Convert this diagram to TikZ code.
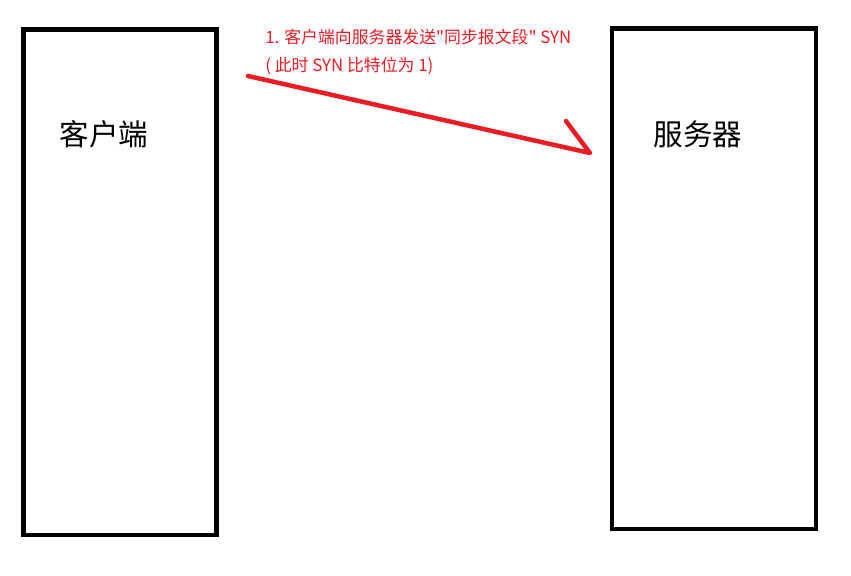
\documentclass[tikz,border=0pt]{standalone}
\usepackage{fontspec}
\newfontfamily\cjk{Noto Sans CJK SC}
\usepackage{tikz}
\usetikzlibrary{positioning}
\definecolor{paintred}{RGB}{237,28,36}

\begin{document}
\begin{tikzpicture}[x=0.025cm,y=-0.025cm,
    host/.style={draw=black,line width=3.5pt},
    hostname/.style={font=\cjk\fontsize{21}{24}\selectfont},
    msg/.style={text=paintred,font=\cjk\fontsize{12}{20}\selectfont,align=left,inner sep=0pt},
    syn/.style={draw=paintred,line width=3.2pt,line cap=round,line join=round}]
  \useasboundingbox (0,0) rectangle (851,575);

  \draw[host] (23.5,29.5) rectangle (216.5,535);
  \node[hostname] (client) at (104,134) {客户端};

  \draw[host] (612,28.5) rectangle (816,529);
  \node[hostname] (server) at (698,134) {服务器};

  %\draw[->] (client) -- (server);
  \coordinate (synstart) at (248,76);
  \coordinate (syntip) at (590,153);
  \coordinate (synhead) at (566,121);
  \draw[syn] (synstart) -- (syntip) -- (synhead);

  \node[msg,anchor=north west] (synmsg) at (265,29) {1. 客户端向服务器发送"同步报文段" SYN\\( 此时 SYN 比特位为 1)};

\end{tikzpicture}
\end{document}
